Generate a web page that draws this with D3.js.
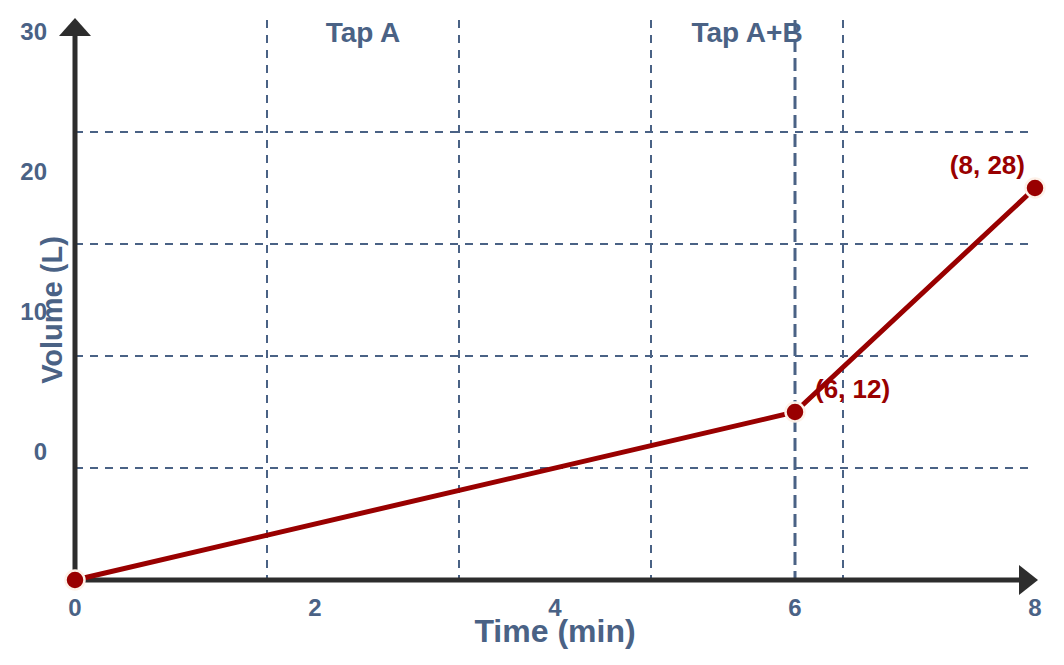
<!DOCTYPE html>
<html lang="en">
<head>
  <meta charset="UTF-8">
  <title>Tap A / Tap A+B volume</title>
  <style>
    body { margin: 0; background: #fff; }
    svg { display: block; font-family: "Liberation Sans", Arial, sans-serif; }
  </style>
  <script src="https://d3js.org/d3.v7.min.js"></script>
</head>
<body>
  <svg id="chart" width="1064" height="665"></svg>
  <script>
    // data
    const times = [0, 6, 8];
    const volumes = [0, 12, 28];
    const xTicks = [0, 2, 4, 6, 8];
    const yTicks = [0, 10, 20, 30];
    const regionLabels = ['Tap A', 'Tap A+B'];
    const regionCenters = [2.4, 5.6];
    const labelledPoints = [1, 2];
    const switchTime = 6;

    const slate = '#4a6285';
    const red = '#990000';
    const axisCol = '#2d2d2d';

    const svg = d3.select('#chart');
    const x = d3.scaleLinear().domain([0, 8]).range([75, 1035]);
    const y = d3.scaleLinear().domain([0, 40]).range([580, 20]);
    // the y tick labels sit off the data scale in the original
    const yLabel = d3.scaleLinear().domain([0, 30]).range([452, 32]);

    // grid: 5 x 5 cells over the plot area
    const grid = svg.append('g')
      .attr('stroke', slate)
      .attr('stroke-width', 2)
      .attr('stroke-dasharray', '8,7');
    grid.selectAll('line.v')
      .data(d3.range(1, 5).map(i => i * 8 / 5))
      .join('line')
      .attr('class', 'v')
      .attr('x1', d => x(d)).attr('x2', d => x(d))
      .attr('y1', y(40)).attr('y2', y(0));
    grid.selectAll('line.h')
      .data(d3.range(1, 5).map(i => i * 40 / 5))
      .join('line')
      .attr('class', 'h')
      .attr('x1', x(0)).attr('x2', x(8))
      .attr('y1', d => y(d)).attr('y2', d => y(d));

    // region labels
    svg.append('g')
      .selectAll('text')
      .data(regionLabels)
      .join('text')
      .attr('x', (d, i) => x(regionCenters[i]))
      .attr('y', 42)
      .attr('text-anchor', 'middle')
      .attr('fill', slate)
      .style('font-size', '28px')
      .style('font-weight', 'bold')
      .text(d => d);

    // switch-over line at t = 6
    svg.append('line')
      .attr('x1', x(switchTime)).attr('x2', x(switchTime))
      .attr('y1', y(40)).attr('y2', y(0))
      .attr('stroke', slate)
      .attr('stroke-width', 3)
      .attr('stroke-dasharray', '13,6');

    // axes with arrow heads
    const axes = svg.append('g');
    axes.append('line')
      .attr('x1', x(0)).attr('y1', y(0))
      .attr('x2', x(0)).attr('y2', 30)
      .attr('stroke', axisCol).attr('stroke-width', 5);
    axes.append('line')
      .attr('x1', x(0)).attr('y1', y(0))
      .attr('x2', 1025).attr('y2', y(0))
      .attr('stroke', axisCol).attr('stroke-width', 5);
    axes.append('path')
      .attr('d', `M${x(0)},18 L${x(0) - 16},36 L${x(0) + 16},36 Z`)
      .attr('fill', axisCol);
    axes.append('path')
      .attr('d', `M1038,${y(0)} L1019,${y(0) - 15} L1019,${y(0) + 15} Z`)
      .attr('fill', axisCol);

    // tick labels
    svg.append('g')
      .selectAll('text')
      .data(xTicks)
      .join('text')
      .attr('x', d => x(d))
      .attr('y', 616)
      .attr('text-anchor', 'middle')
      .attr('fill', slate)
      .style('font-size', '24px')
      .style('font-weight', 'bold')
      .text(d => d);
    svg.append('g')
      .selectAll('text')
      .data(yTicks)
      .join('text')
      .attr('x', 47)
      .attr('y', d => yLabel(d))
      .attr('dy', '0.35em')
      .attr('text-anchor', 'end')
      .attr('fill', slate)
      .style('font-size', '24px')
      .style('font-weight', 'bold')
      .text(d => d);

    // axis titles
    svg.append('text')
      .attr('x', x(4))
      .attr('y', 642)
      .attr('text-anchor', 'middle')
      .attr('fill', slate)
      .style('font-size', '32px')
      .style('font-weight', 'bold')
      .text('Time (min)');
    svg.append('text')
      .attr('transform', 'translate(62,310) rotate(-90)')
      .attr('text-anchor', 'middle')
      .attr('fill', slate)
      .style('font-size', '29px')
      .style('font-weight', 'bold')
      .text('Volume (L)');

    // volume line
    const pts = times.map((t, i) => [t, volumes[i]]);
    svg.append('path')
      .datum(pts)
      .attr('fill', 'none')
      .attr('stroke', red)
      .attr('stroke-width', 5)
      .attr('d', d3.line().x(d => x(d[0])).y(d => y(d[1])));

    svg.append('g')
      .selectAll('circle')
      .data(pts)
      .join('circle')
      .attr('cx', d => x(d[0]))
      .attr('cy', d => y(d[1]))
      .attr('r', 9.5)
      .attr('fill', red)
      .attr('stroke', '#fdf1e8')
      .attr('stroke-width', 2.5);

    // point labels
    svg.append('g')
      .selectAll('text')
      .data(labelledPoints)
      .join('text')
      .attr('x', i => i === times.length - 1 ? x(times[i]) - 10 : x(times[i]) + 20)
      .attr('y', i => y(volumes[i]) - 14)
      .attr('text-anchor', i => i === times.length - 1 ? 'end' : 'start')
      .attr('fill', red)
      .style('font-size', '26px')
      .style('font-weight', 'bold')
      .text(i => `(${times[i]}, ${volumes[i]})`);
  </script>
</body>
</html>
